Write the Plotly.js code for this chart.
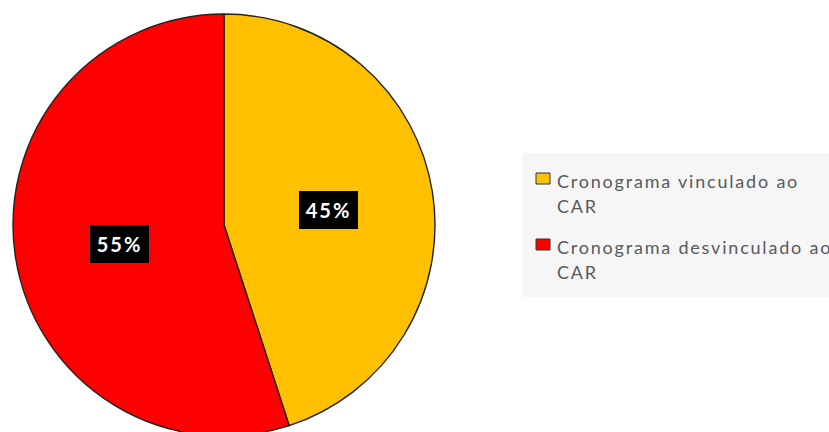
<!DOCTYPE html>
<html>
<head>
<meta charset="utf-8">
<script src="https://cdn.plot.ly/plotly-3.0.1.min.js"></script>
<style>
  html, body { margin: 0; padding: 0; overflow: hidden; background: #fff; }
</style>
</head>
<body>
<div id="chart" style="width:829px;height:440px"></div>
<script>
// Share of schedules linked / not linked to the CAR
const labels = ['Cronograma vinculado ao CAR', 'Cronograma desvinculado ao CAR'];
const legendLines = [['Cronograma vinculado ao', 'CAR'], ['Cronograma desvinculado ao', 'CAR']];
const values = [45, 55];
const colors = ['#FFC000', '#FF0000'];

// canvas and pie geometry, in pixels
const W = 829, H = 440;
const cx = 224, cy = 225, R = 211;
const px = x => x / W;
const py = y => (H - y) / H;

const total = values.reduce((a, b) => a + b, 0);
const annotations = [];
const shapes = [];

// percentage boxes on each slice, placed at half radius on the slice mid-angle
let start = 0;
values.forEach((v, i) => {
  const frac = v / total;
  const mid = start + frac / 2;
  start += frac;
  const ang = mid * 2 * Math.PI;          // clockwise from 12 o'clock
  const lx = cx + 0.5 * R * Math.sin(ang);
  const ly = cy - 0.5 * R * Math.cos(ang) + 2;
  annotations.push({
    xref: 'paper', yref: 'paper', x: px(lx), y: py(ly),
    xanchor: 'center', yanchor: 'middle', showarrow: false,
    text: '<span style="letter-spacing:2px">' + Math.round(frac * 100) + '%</span>',
    font: { family: 'Lato', size: 20, color: '#ffffff', weight: 'bold' },
    bgcolor: '#000000', width: 59, height: 38, borderpad: 0, borderwidth: 0
  });
});

// legend panel
shapes.push({
  type: 'rect', xref: 'paper', yref: 'paper', layer: 'below',
  x0: px(523), x1: 1, y0: py(297), y1: py(153),
  fillcolor: '#F6F6F6', line: { width: 0 }
});

const legX = 555, legTop = [181, 247], lineGap = 25;
legendLines.forEach((lines, i) => {
  lines.forEach((t, j) => {
    annotations.push({
      xref: 'paper', yref: 'paper', x: px(legX), y: py(legTop[i] + j * lineGap),
      xanchor: 'left', yanchor: 'middle', showarrow: false,
      text: '<span style="letter-spacing:1.8px">' + t + '</span>',
      font: { family: 'Lato', size: 18, color: '#595959' }
    });
  });
  shapes.push({
    type: 'rect', xref: 'paper', yref: 'paper',
    x0: px(536), x1: px(550), y0: py(legTop[i] + 3), y1: py(legTop[i] - 8),
    fillcolor: colors[i], line: { color: '#333333', width: 1 }
  });
});

const data = [{
  type: 'pie',
  labels: labels,
  values: values,
  sort: false,
  direction: 'clockwise',
  rotation: 0,
  textinfo: 'none',
  hoverinfo: 'label+percent',
  showlegend: false,
  marker: { colors: colors, line: { color: '#222222', width: 1.4 } },
  domain: { x: [px(cx - R), px(cx + R)], y: [py(cy + R), py(cy - R)] }
}];

const layout = {
  width: W, height: H,
  margin: { l: 0, r: 0, t: 0, b: 0 },
  paper_bgcolor: '#ffffff',
  showlegend: false,
  annotations: annotations,
  shapes: shapes
};

Plotly.newPlot('chart', data, layout, { displayModeBar: false, staticPlot: true });
</script>
</body>
</html>
